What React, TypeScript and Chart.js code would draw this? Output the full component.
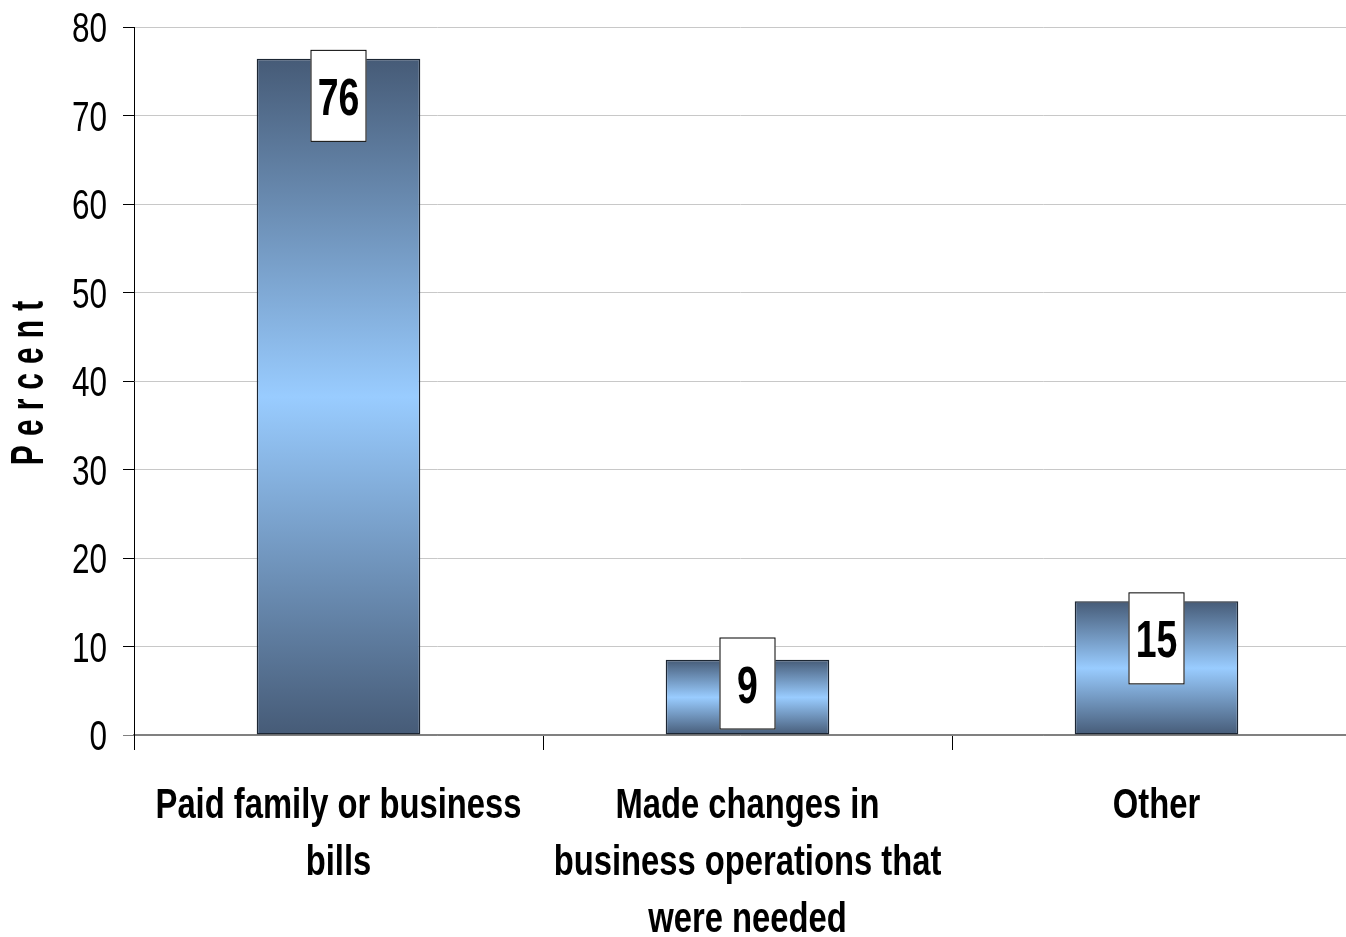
import React, { useEffect, useRef } from "react";
import { Chart, registerables } from "chart.js";

Chart.register(...registerables);

const categories: string[][] = [
  ["Paid family or business", "bills"],
  ["Made changes in", "business operations that", "were needed"],
  ["Other"],
];
const values: number[] = [76.4, 8.5, 15.1];
const valueLabels: string[] = ["76", "9", "15"];
const yMin = 0;
const yMax = 80;
const yStep = 10;
const yTitle = "Percent";

const SANS = '"Liberation Sans", Arimo, Arial, sans-serif';
const DARK = "#465b77";
const LIGHT = "#99ccff";

function drawCondensed(
  ctx: CanvasRenderingContext2D,
  text: string,
  x: number,
  y: number,
  font: string,
  sx: number,
  align: CanvasTextAlign
) {
  ctx.save();
  ctx.translate(x, y);
  ctx.scale(sx, 1);
  ctx.font = font;
  ctx.textAlign = align;
  ctx.textBaseline = "alphabetic";
  ctx.fillStyle = "#000000";
  ctx.fillText(text, 0, 0);
  ctx.restore();
}

// the plot area runs a little past the right edge of the picture
const extendPlotPlugin = {
  id: "extendPlot",
  afterLayout(chart: any) {
    const xs = chart.scales.x;
    xs.right += 15;
    xs.width += 15;
    xs.configure();
  },
};

const valueLabelPlugin = {
  id: "valueLabels",
  afterDatasetsDraw(chart: any) {
    const { ctx } = chart;
    const meta = chart.getDatasetMeta(0);
    meta.data.forEach((bar: any, i: number) => {
      const w = 56;
      const h = 92;
      let top = bar.y - 9;
      if (top + h > bar.base - 5) top = bar.base - 5 - h;
      const left = bar.x - w / 2;
      ctx.save();
      ctx.fillStyle = "#ffffff";
      ctx.fillRect(left, top, w, h);
      ctx.strokeStyle = "#000000";
      ctx.lineWidth = 1;
      ctx.strokeRect(left + 0.5, top + 0.5, w - 1, h - 1);
      ctx.restore();
      drawCondensed(ctx, valueLabels[i], bar.x, top + h / 2 + 19, `bold 52px ${SANS}`, 0.72, "center");
    });
  },
};

const axisTextPlugin = {
  id: "axisText",
  afterDraw(chart: any) {
    const { ctx, scales } = chart;
    const ys = scales.y;
    const xs = scales.x;
    ys.ticks.forEach((t: any, i: number) => {
      const py = ys.getPixelForTick(i);
      drawCondensed(ctx, String(t.value), ys.right - 27, py + 15, `42px ${SANS}`, 0.75, "right");
    });
    xs.ticks.forEach((_t: any, i: number) => {
      const px = xs.getPixelForTick(i);
      const lines = categories[i];
      lines.forEach((line, k) => {
        drawCondensed(ctx, line, px, xs.top + 83 + k * 57, `bold 42px ${SANS}`, 0.78, "center");
      });
    });
    ctx.save();
    ctx.translate(43, 383);
    ctx.rotate(-Math.PI / 2);
    ctx.scale(0.65, 1);
    ctx.font = `bold 46px ${SANS}`;
    (ctx as any).letterSpacing = "14px";
    ctx.fillStyle = "#000000";
    ctx.textAlign = "center";
    ctx.textBaseline = "alphabetic";
    ctx.fillText(yTitle, 7, 0);
    ctx.restore();
  },
};

export default function App() {
  const ref = useRef<HTMLCanvasElement | null>(null);

  useEffect(() => {
    document.body.style.margin = "0";
    const canvas = ref.current;
    if (!canvas) return;
    const chart = new Chart(canvas, {
      type: "bar",
      data: {
        labels: categories,
        datasets: [
          {
            data: values,
            backgroundColor: (c: any) => {
              const ch = c.chart;
              if (!ch.chartArea || c.type !== "data") return DARK;
              const ys = ch.scales.y;
              const top = ys.getPixelForValue(values[c.dataIndex]);
              const bottom = ys.getPixelForValue(0);
              const g = ch.ctx.createLinearGradient(0, top, 0, bottom);
              g.addColorStop(0, DARK);
              g.addColorStop(0.5, LIGHT);
              g.addColorStop(1, DARK);
              return g;
            },
            borderColor: "#1c2633",
            borderWidth: 1.5,
            borderSkipped: false,
            categoryPercentage: 1,
            barPercentage: 0.4,
          },
        ],
      },
      options: {
        responsive: false,
        animation: false,
        layout: { padding: { top: 27, right: 0, left: 0, bottom: 0 } },
        plugins: {
          legend: { display: false },
          tooltip: { enabled: false },
        },
        scales: {
          x: {
            type: "category",
            offset: true,
            grid: {
              offset: true,
              drawOnChartArea: false,
              tickLength: 15,
              color: "#000000",
              lineWidth: 1,
            },
            border: { color: "#808080", width: 1.5 },
            ticks: { display: false, autoSkip: false },
            afterFit: (s: any) => {
              s.height = 202;
            },
          },
          y: {
            min: yMin,
            max: yMax,
            grid: {
              color: (c: any) => (c.tick && c.tick.value === 0 ? "#808080" : "#c8c8c8"),
              tickColor: (c: any) => (c.tick && c.tick.value === 0 ? "#808080" : "#000000"),
              tickLength: 11,
              lineWidth: 1,
            },
            border: { color: "#000000", width: 1 },
            ticks: { display: false, stepSize: yStep },
            afterFit: (s: any) => {
              s.width = 134;
            },
          },
        },
      },
      plugins: [extendPlotPlugin, valueLabelPlugin, axisTextPlugin],
    } as any);
    return () => chart.destroy();
  }, []);

  return (
    <div style={{ width: 1346, height: 937, background: "#ffffff" }}>
      <canvas ref={ref} width={1346} height={937} style={{ display: "block" }} />
    </div>
  );
}
